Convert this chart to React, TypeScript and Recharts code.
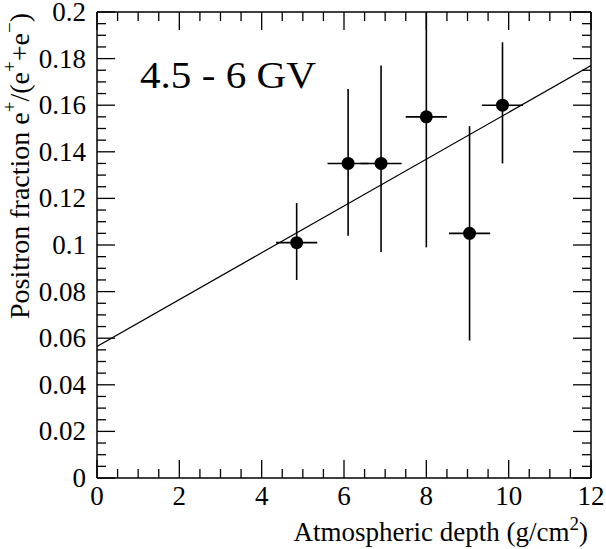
import { ScatterChart, Scatter, XAxis, YAxis, ErrorBar } from 'recharts';

// measured points (atmospheric depth in g/cm^2, positron fraction)
const depth = [4.85, 6.1, 6.9, 8.0, 9.05, 9.85];
const fraction = [0.101, 0.135, 0.135, 0.155, 0.105, 0.16];
const depthErr = [0.5, 0.5, 0.5, 0.5, 0.5, 0.5];
const fracErrLow = [0.016, 0.031, 0.038, 0.056, 0.046, 0.025];
const fracErrHigh = [0.017, 0.032, 0.042, 0.045, 0.046, 0.027]; // 4th runs off the top of the frame

// straight line fit, end points
const fitDepth = [0, 12];
const fitFraction = [0.0565, 0.177];

// axis ticks: labelled majors, minors in between
const xMajor = [0, 2, 4, 6, 8, 10, 12];
const yMajor = [0, 0.02, 0.04, 0.06, 0.08, 0.1, 0.12, 0.14, 0.16, 0.18, 0.2];
const xTicks = xMajor.flatMap((v, i) => (i === 0 ? [v] : [v - 1.5, v - 1, v - 0.5, v]));
const yTicks = yMajor.flatMap((v, i) =>
  i === 0 ? [v] : [v - 0.015, v - 0.01, v - 0.005, v].map((t) => Number(t.toFixed(3)))
);

const points = depth.map((d, i) => ({
  x: d,
  y: fraction[i],
  ex: depthErr[i],
  ey: [fracErrLow[i], fracErrHigh[i]],
}));
const fit = fitDepth.map((d, i) => ({ x: d, y: fitFraction[i] }));

const FONT = 'Liberation Serif';
const FS = 27;
const BIG = 18;
const SMALL = 9;

const isMajor = (v: number, list: number[]) => list.some((m) => Math.abs(m - v) < 1e-6);

const BottomTick = ({ x, y, payload }: any) => {
  const major = isMajor(payload.value, xMajor);
  return (
    <g>
      <line x1={x} y1={y} x2={x} y2={y - (major ? BIG : SMALL)} stroke="#000" strokeWidth={1.3} />
      {major && (
        <text x={x} y={y + 27} textAnchor="middle" fontSize={FS} fontFamily={FONT} fill="#000">
          {payload.value}
        </text>
      )}
    </g>
  );
};

const TopTick = ({ x, y, payload }: any) => {
  const major = isMajor(payload.value, xMajor);
  return <line x1={x} y1={y} x2={x} y2={y + (major ? BIG : SMALL)} stroke="#000" strokeWidth={1.3} />;
};

const LeftTick = ({ x, y, payload }: any) => {
  const major = isMajor(payload.value, yMajor);
  return (
    <g>
      <line x1={x} y1={y} x2={x + (major ? BIG : SMALL)} y2={y} stroke="#000" strokeWidth={1.3} />
      {major && (
        <text x={x - 11} y={y + 9} textAnchor="end" fontSize={FS} fontFamily={FONT} fill="#000">
          {String(Number(payload.value.toFixed(2)))}
        </text>
      )}
    </g>
  );
};

const RightTick = ({ x, y, payload }: any) => {
  const major = isMajor(payload.value, yMajor);
  return <line x1={x} y1={y} x2={x - (major ? BIG : SMALL)} y2={y} stroke="#000" strokeWidth={1.3} />;
};

const Dot = ({ cx, cy }: any) => <circle cx={cx} cy={cy} r={6.5} fill="#000" />;
const NoDot = () => null;

export default function App() {
  return (
    <div style={{ position: 'absolute', left: 0, top: 0, background: '#fff' }}>
      <ScatterChart width={606} height={549} margin={{ top: 11, right: 14, left: 0, bottom: 0 }}>
        <XAxis
          xAxisId="b"
          type="number"
          dataKey="x"
          domain={[0, 12]}
          allowDataOverflow
          ticks={xTicks}
          interval={0}
          tickSize={0}
          tickMargin={0}
          tickLine={false}
          tick={<BottomTick />}
          height={71}
          axisLine={{ stroke: '#000', strokeWidth: 1.5 }}
        />
        <XAxis
          xAxisId="t"
          orientation="top"
          type="number"
          dataKey="x"
          domain={[0, 12]}
          allowDataOverflow
          ticks={xTicks}
          interval={0}
          tickSize={0}
          tickMargin={0}
          tickLine={false}
          tick={<TopTick />}
          height={1}
          axisLine={{ stroke: '#000', strokeWidth: 1.5 }}
        />
        <YAxis
          yAxisId="l"
          type="number"
          dataKey="y"
          domain={[0, 0.2]}
          allowDataOverflow
          ticks={yTicks}
          interval={0}
          tickSize={0}
          tickMargin={0}
          tickLine={false}
          tick={<LeftTick />}
          width={97}
          axisLine={{ stroke: '#000', strokeWidth: 1.5 }}
        />
        <YAxis
          yAxisId="r"
          orientation="right"
          type="number"
          dataKey="y"
          domain={[0, 0.2]}
          allowDataOverflow
          ticks={yTicks}
          interval={0}
          tickSize={0}
          tickMargin={0}
          tickLine={false}
          tick={<RightTick />}
          width={1}
          axisLine={{ stroke: '#000', strokeWidth: 1.5 }}
        />
        <Scatter
          xAxisId="b"
          yAxisId="l"
          data={fit}
          line={{ stroke: '#000', strokeWidth: 1.2 }}
          shape={<NoDot />}
          isAnimationActive={false}
        />
        <Scatter xAxisId="b" yAxisId="l" data={points} shape={<Dot />} isAnimationActive={false}>
          <ErrorBar dataKey="ex" direction="x" width={0} stroke="#000" strokeWidth={1.6} />
          <ErrorBar dataKey="ey" direction="y" width={0} stroke="#000" strokeWidth={1.6} />
        </Scatter>
        <text x={140} y={88} fontSize={38} fontFamily={FONT} fill="#000" textLength={176} lengthAdjust="spacingAndGlyphs">
          4.5 - 6 GV
        </text>
        <text x={588} y={541} textAnchor="end" fontSize={FS} fontFamily={FONT} fill="#000">
          Atmospheric depth (g/cm
          <tspan dy={-11} fontSize={19}>2</tspan>
          <tspan dy={11}>)</tspan>
        </text>
        <g transform="translate(29,13) rotate(-90)">
          <text x={0} y={0} textAnchor="end" fontSize={28} fontFamily={FONT} fill="#000">
            Positron fraction e<tspan dy={-13} fontSize={19}>+</tspan>
            <tspan dy={13}>/(e</tspan>
            <tspan dy={-13} fontSize={19}>+</tspan>
            <tspan dy={13}>+e</tspan>
            <tspan dy={-13} fontSize={19}>−</tspan>
            <tspan dy={13}>)</tspan>
          </text>
        </g>
      </ScatterChart>
    </div>
  );
}
